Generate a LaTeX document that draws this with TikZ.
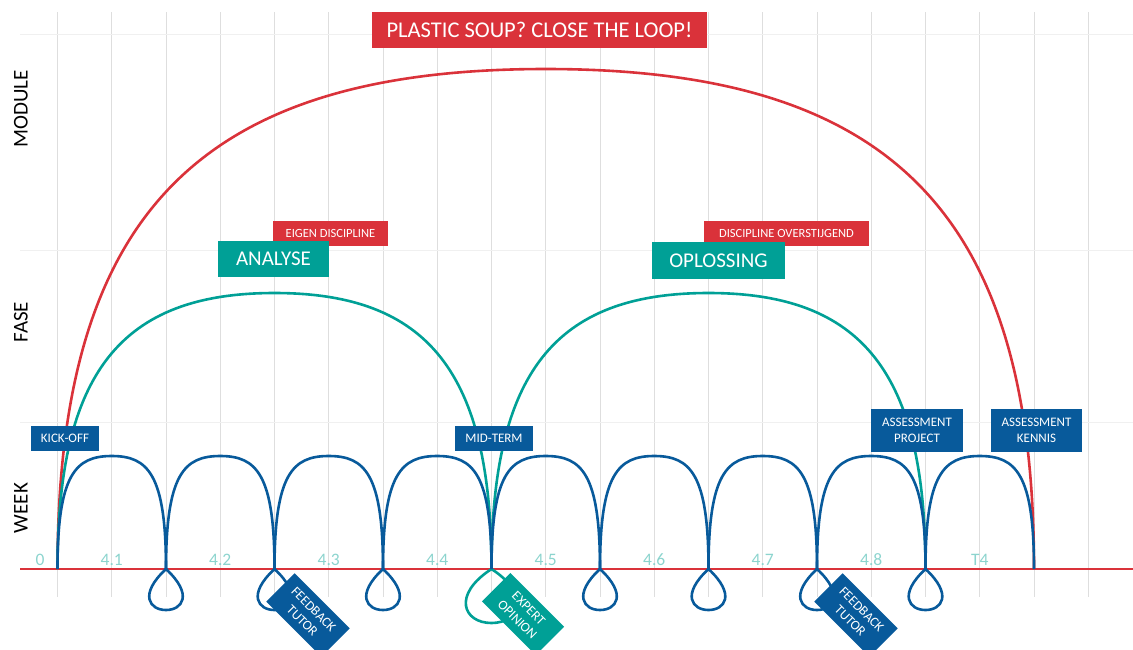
\documentclass[tikz,border=0pt]{standalone}
\usepackage{fontspec}
\setmainfont{Carlito}
\usetikzlibrary{calc}
\definecolor{cred}{RGB}{218,50,58}
\definecolor{cteal}{RGB}{0,160,150}
\definecolor{cblue}{RGB}{8,90,155}
\definecolor{cweek}{RGB}{140,212,206}
\definecolor{cgrid}{RGB}{222,222,222}
\definecolor{chgrid}{RGB}{240,240,240}
\begin{document}
\begin{tikzpicture}[x=1pt,y=-1pt,
  arcline/.style={line width=2.6pt},
  box/.style={inner sep=0pt, text=white, align=center, anchor=center},
  bluebox/.style={box, fill=cblue, font=\fontsize{13}{16}\selectfont},
  redsmall/.style={box, fill=cred, font=\fontsize{12.5}{14}\selectfont},
  tealbig/.style={box, fill=cteal, font=\fontsize{21}{24}\selectfont},
  tagbox/.style={box, rotate=-45, font=\fontsize{13.5}{16}\selectfont},
  weeklbl/.style={text=cweek, font=\fontsize{17.5}{19}\selectfont, inner sep=0pt, anchor=center},
  axislbl/.style={font=\fontsize{21}{24}\selectfont, rotate=90, inner sep=0pt, anchor=center}
]
\useasboundingbox (0,0) rectangle (1133,649);
% grid
\foreach \i in {0,...,19}
  \draw[cgrid, line width=0.8pt] ({57.5+54.25*\i},12) -- ({57.5+54.25*\i},597);
\foreach \y in {34,250,422}
  \draw[chgrid, line width=1pt] (20,\y) -- (1133,\y);
% baseline
\coordinate (b0) at (20,569);
\coordinate (b1) at (1133,569);
\draw[cred, line width=2pt] (b0) -- (b1);
% week boundary points
\foreach \i in {0,...,9}
  \coordinate (w\i) at ({57.5+108.5*\i},569);
% module arch
\coordinate (mtop) at (545.75,69);
\draw[cred, arcline] (w0) .. controls +(0,-355) and +(-346.7,0) .. (mtop)
  .. controls +(346.7,0) and +(0,-355) .. (w9);
% fase arches
\coordinate (f1top) at (274.5,293);
\coordinate (f2top) at (708.5,293);
\draw[cteal, arcline] (w0) .. controls +(0,-196) and +(-154,0) .. (f1top)
  .. controls +(154,0) and +(0,-196) .. (w4);
\draw[cteal, arcline] (w4) .. controls +(0,-196) and +(-154,0) .. (f2top)
  .. controls +(154,0) and +(0,-196) .. (w8);
% teal loop at mid-term
\draw[cteal, arcline] (w4) .. controls +(-40,26) and +(-28,0) .. ++(0,54)
  .. controls +(28,0) and +(40,26) .. (w4);
% week arches
\foreach \i/\j in {0/1,1/2,2/3,3/4,4/5,5/6,6/7,7/8,8/9}{
  \coordinate (t\i) at ($(w\i)!0.5!(w\j)+(0,-113)$);
  \draw[cblue, arcline] (w\i) .. controls +(0,-95) and +(-36,0) .. (t\i)
    .. controls +(36,0) and +(0,-95) .. (w\j);
}
% blue loops
\foreach \i in {1,2,3,5,6,7,8}
  \draw[cblue, arcline] (w\i) .. controls +(-28,26) and +(-16,0) .. ++(0,41)
    .. controls +(16,0) and +(28,26) .. (w\i);
% week labels
\node[weeklbl] (l0) at (40,560) {0};
\node[weeklbl] (l1) at (111.75,560) {4.1};
\node[weeklbl] (l2) at (220.25,560) {4.2};
\node[weeklbl] (l3) at (328.75,560) {4.3};
\node[weeklbl] (l4) at (437.25,560) {4.4};
\node[weeklbl] (l5) at (545.75,560) {4.5};
\node[weeklbl] (l6) at (654.25,560) {4.6};
\node[weeklbl] (l7) at (762.75,560) {4.7};
\node[weeklbl] (l8) at (871.25,560) {4.8};
\node[weeklbl] (l9) at (979.75,560) {T4};
% axis labels
\node[axislbl] (amod) at (21,109) {MODULE};
\node[axislbl] (afase) at (21,322) {FASE};
\node[axislbl] (aweek) at (21,508) {WEEK};
% title
\node[box, fill=cred, minimum width=335pt, minimum height=36pt,
  font=\fontsize{22.5}{26}\selectfont] (title) at (539.5,30) {PLASTIC SOUP? CLOSE THE LOOP!};
% phase boxes
\node[redsmall, minimum width=115pt, minimum height=25pt] (eigen) at (330.5,233.5) {EIGEN DISCIPLINE};
\node[redsmall, minimum width=165pt, minimum height=25pt] (overst) at (786.5,233.5) {DISCIPLINE OVERSTIJGEND};
\node[tealbig, minimum width=111pt, minimum height=36pt] (analyse) at (273.5,259) {ANALYSE};
\node[tealbig, minimum width=133pt, minimum height=37pt] (oplossing) at (718.5,260.5) {OPLOSSING};
% milestone boxes
\node[bluebox, minimum width=68pt, minimum height=25pt] (kick) at (65,438.5) {KICK-OFF};
\node[bluebox, minimum width=78pt, minimum height=25pt] (mid) at (494,438.5) {MID-TERM};
\node[bluebox, minimum width=92pt, minimum height=43pt] (assp) at (917,430.5) {ASSESSMENT\\PROJECT};
\node[bluebox, minimum width=91pt, minimum height=43pt] (assk) at (1036.5,430.5) {ASSESSMENT\\KENNIS};
% tags
\node[tagbox, fill=cblue, minimum width=78pt, minimum height=40pt] (fb1) at (308,615) {FEEDBACK\\TUTOR};
\node[tagbox, fill=cteal, minimum width=76pt, minimum height=40pt] (exp) at (523,614) {EXPERT\\OPINION};
\node[tagbox, fill=cblue, minimum width=78pt, minimum height=40pt] (fb2) at (856,615) {FEEDBACK\\TUTOR};
\end{tikzpicture}
\end{document}
